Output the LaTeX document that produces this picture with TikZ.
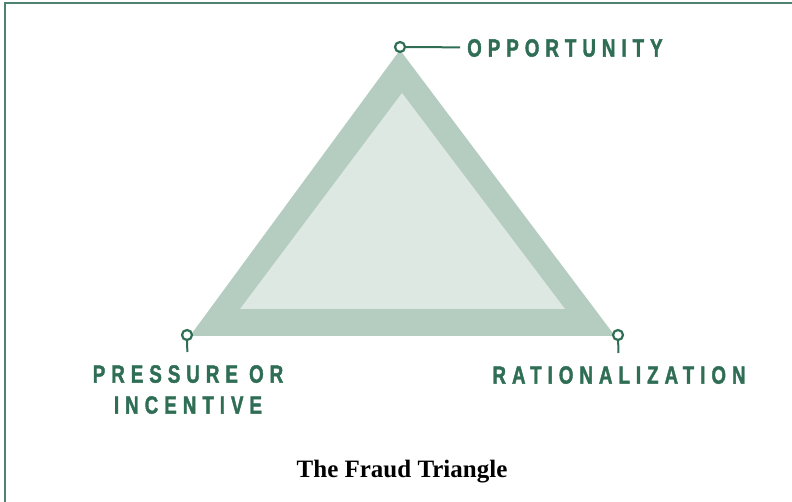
\documentclass[tikz,border=0pt]{standalone}
\usepackage{fontspec}
\usepackage{xcolor}
\usepackage{tikz}
\usetikzlibrary{positioning,calc}
\newfontfamily\tagfont[FakeStretch=0.75,LetterSpace=24,FakeBold=1.6]{Liberation Sans Bold}
\newfontfamily\titlefont{Liberation Serif}
\definecolor{fraudgreen}{RGB}{47,110,85}
\definecolor{fraudframe}{RGB}{80,130,112}
\definecolor{triouter}{RGB}{180,205,192}
\definecolor{triinner}{RGB}{221,232,226}

\begin{document}
\begin{tikzpicture}[
        x=1pt, y=-1pt,
        tag/.style={text=fraudgreen, font=\tagfont\fontsize{25}{31}\selectfont, align=center, inner sep=0pt},
        dot/.style={circle, draw=fraudgreen, line width=2.2pt, fill=white, minimum size=10pt, inner sep=0pt},
        leader/.style={draw=fraudgreen, line width=2pt}
    ]
        \useasboundingbox (0,0) rectangle (792,502);

        % Frame (top and left edges only)
        \draw[fraudframe, line width=2pt] (4.5,502) -- (4.5,3) -- (792,3);

        % Triangle corners
        \coordinate (top) at (400,50);
        \coordinate (left) at (190,336);
        \coordinate (right) at (615,336);

        % Outer and inner triangle
        \fill[triouter] (left) -- (right) -- (top) -- cycle;
        \fill[triinner] (240,309) -- (565,309) -- (402,93) -- cycle;

        % Top vertex: opportunity
        \node[dot] (topdot) at (400,47) {};
        \node[tag, anchor=west, inner xsep=7pt] (opp) at (460,48) {OPPORTUNITY};
        \draw[leader] (topdot) -- (opp);

        % Left vertex: pressure
        \node[dot] (leftdot) at (187,335) {};
        \node[tag, anchor=north, inner ysep=13pt] (press) at (188,352) {PRESSURE OR\\INCENTIVE};
        \draw[leader] (leftdot) -- (press);

        % Right vertex: rationalization
        \node[dot] (rightdot) at (618,335) {};
        \node[tag, anchor=north, inner ysep=13pt] (ratio) at (619,353) {RATIONALIZATION};
        \draw[leader] (rightdot) -- (ratio);

        % Caption
        \node[font=\titlefont\bfseries\fontsize{25}{29}\selectfont] (title) at (402,472) {The Fraud Triangle};
    \end{tikzpicture}
\end{document}
